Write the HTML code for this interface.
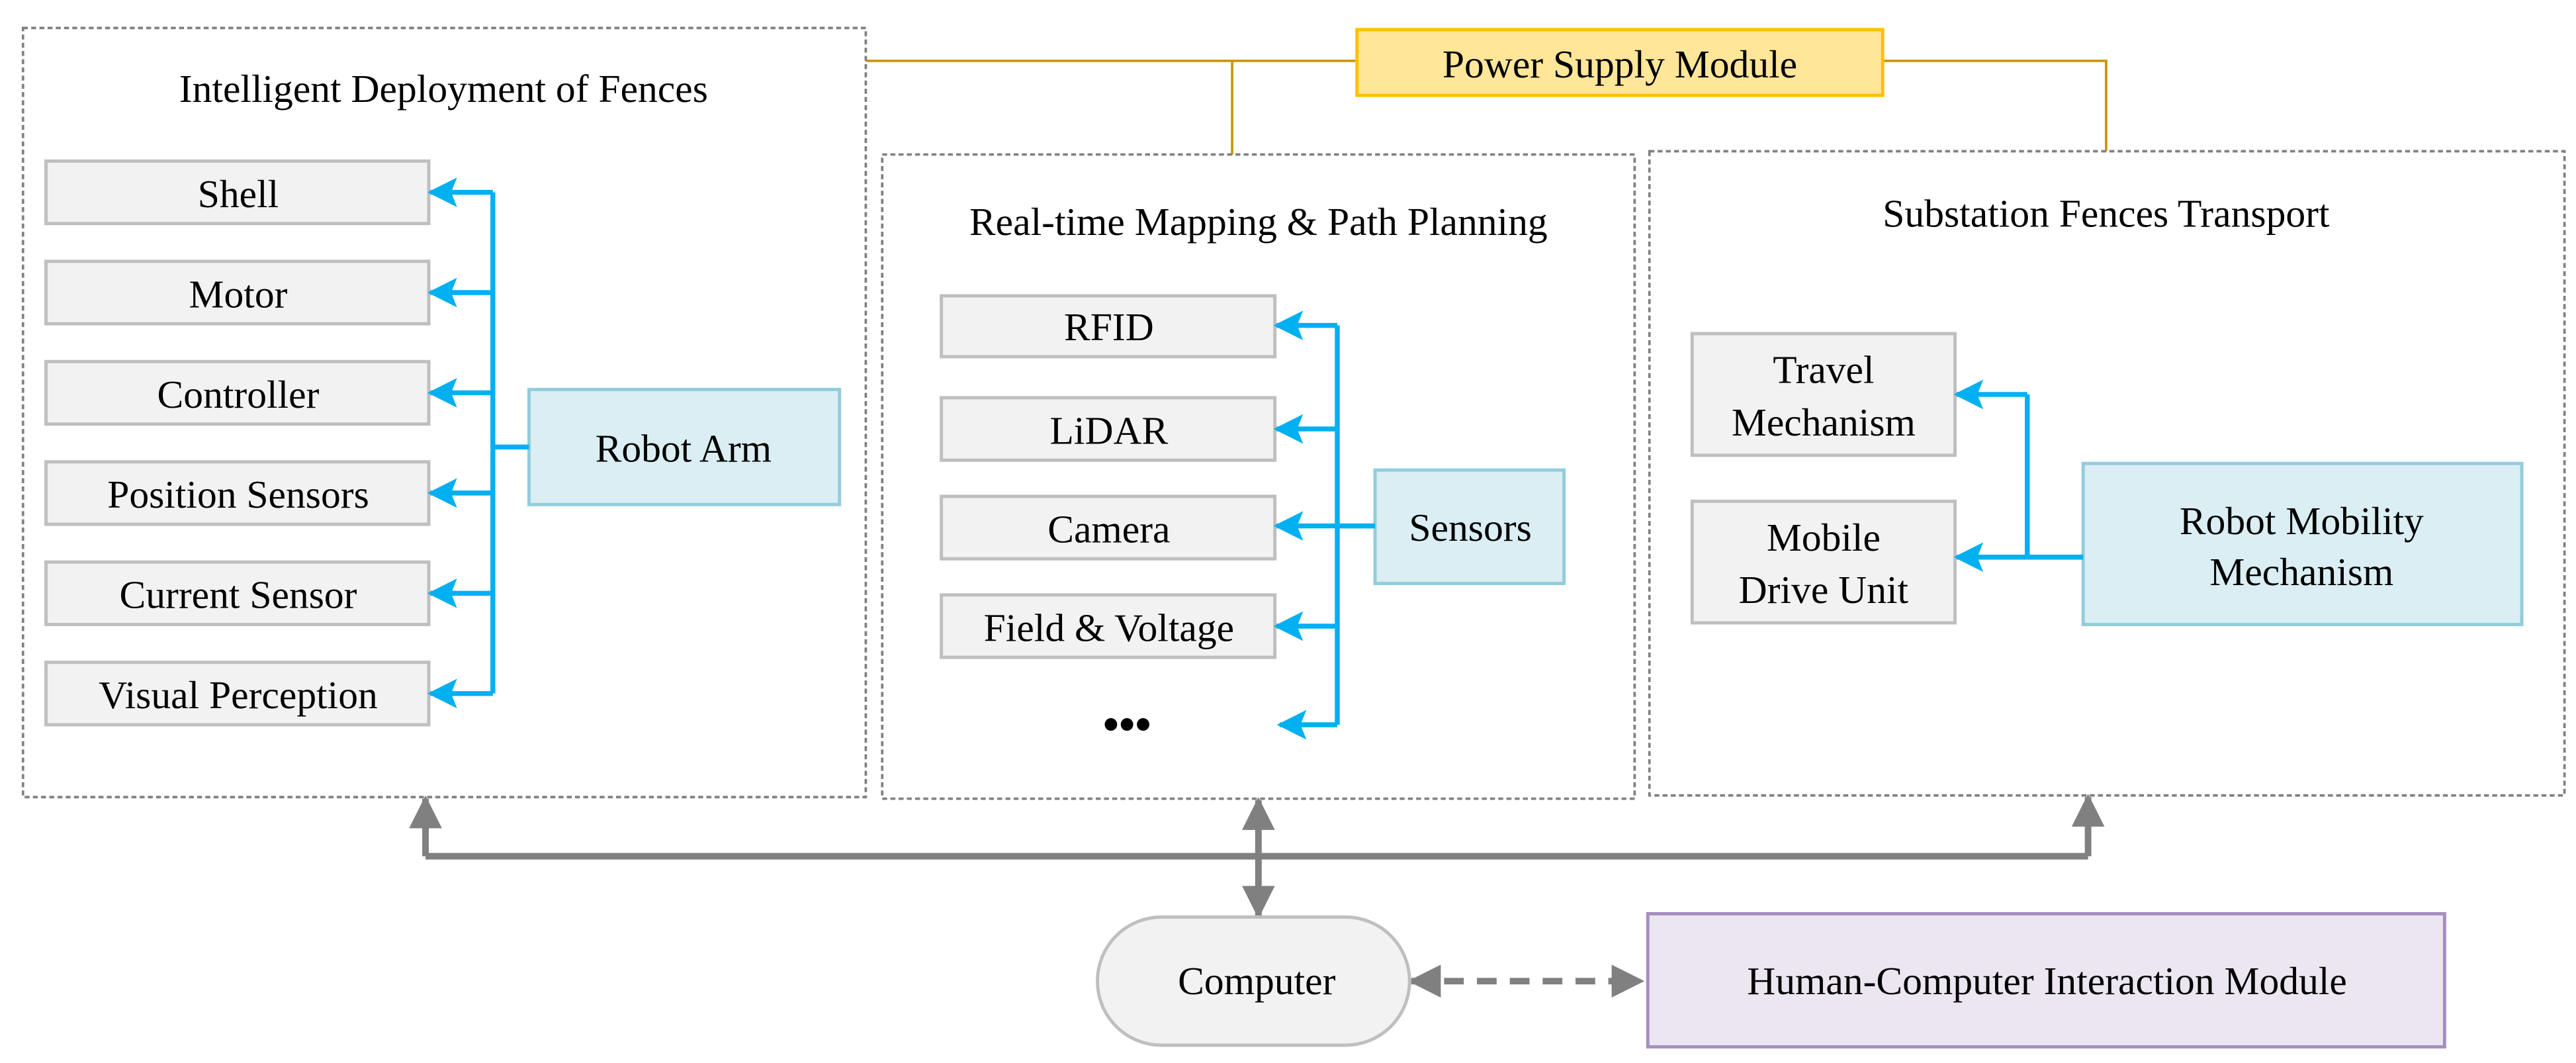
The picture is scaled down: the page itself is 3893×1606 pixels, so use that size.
<!DOCTYPE html>
<html><head><meta charset="utf-8"><style>html,body{margin:0;padding:0;background:#fff}svg{display:block}</style></head>
<body>
<svg xmlns="http://www.w3.org/2000/svg" width="3893" height="1606" viewBox="0 0 1568 646.8" font-family="'Liberation Serif', serif" font-size="24" text-anchor="middle">
<defs>
<marker id="bl" viewBox="0 0 10 10" refX="9" refY="5" markerWidth="20" markerHeight="18" markerUnits="userSpaceOnUse" orient="auto-start-reverse"><path d="M0,0 L10,5 L0,10 L2,5 Z" fill="#00B0F0"/></marker>
<marker id="gr" viewBox="0 0 10 10" refX="9" refY="5" markerWidth="20" markerHeight="20" markerUnits="userSpaceOnUse" orient="auto-start-reverse"><path d="M0,0 L10,5 L0,10 Z" fill="#808080"/></marker>
</defs>
<g stroke="#C89600" stroke-width="1.5" fill="none">
<path d="M527,37 H826"/><path d="M750,37 V94"/><path d="M1146,37 H1282 V92"/>
</g>
<g fill="none" stroke="#808080" stroke-width="1.5" stroke-dasharray="3 2">
<rect x="14" y="17" width="513" height="468"/>
<rect x="537" y="94" width="458" height="392"/>
<rect x="1004" y="92" width="557" height="392"/>
</g>
<rect x="826" y="18" width="320" height="40" fill="#FFE699" stroke="#FFC000" stroke-width="2"/>
<text x="986" y="47">Power Supply Module</text>
<text x="270" y="62">Intelligent Deployment of Fences</text>
<text x="766" y="143">Real-time Mapping &amp; Path Planning</text>
<text x="1282" y="138">Substation Fences Transport</text>
<g fill="#F2F2F2" stroke="#BFBFBF" stroke-width="2">
<rect x="28" y="98" width="233" height="38"/><rect x="28" y="159" width="233" height="38"/>
<rect x="28" y="220" width="233" height="38"/><rect x="28" y="281" width="233" height="38"/>
<rect x="28" y="342" width="233" height="38"/><rect x="28" y="403" width="233" height="38"/>
<rect x="573" y="180" width="203" height="37"/><rect x="573" y="242" width="203" height="38"/>
<rect x="573" y="302" width="203" height="38"/><rect x="573" y="362" width="203" height="38"/>
<rect x="1030" y="203" width="160" height="74"/><rect x="1030" y="305" width="160" height="74"/>
</g>
<g>
<text x="145" y="126">Shell</text><text x="145" y="187">Motor</text>
<text x="145" y="248">Controller</text><text x="145" y="309">Position Sensors</text>
<text x="145" y="370">Current Sensor</text><text x="145" y="431">Visual Perception</text>
<text x="675" y="207">RFID</text><text x="675" y="270">LiDAR</text>
<text x="675" y="330">Camera</text><text x="675" y="390">Field &amp; Voltage</text>
<text x="686" y="450" font-size="28" font-weight="bold">•••</text>
<text x="1110" y="233">Travel</text><text x="1110" y="265">Mechanism</text>
<text x="1110" y="335">Mobile</text><text x="1110" y="367">Drive Unit</text>
</g>
<g fill="#DAEEF3" stroke="#92CDDC" stroke-width="2">
<rect x="322" y="237" width="189" height="70"/>
<rect x="837" y="286" width="115" height="69"/>
<rect x="1268" y="282" width="267" height="98"/>
</g>
<text x="416" y="281">Robot Arm</text>
<text x="895" y="329">Sensors</text>
<text x="1401" y="325">Robot Mobility</text><text x="1401" y="356">Mechanism</text>
<g stroke="#00B0F0" stroke-width="3" fill="none">
<path d="M300,117 V422"/><path d="M300,272 H322"/>
<path d="M300,117 H262" marker-end="url(#bl)"/><path d="M300,178 H262" marker-end="url(#bl)"/>
<path d="M300,239 H262" marker-end="url(#bl)"/><path d="M300,300 H262" marker-end="url(#bl)"/>
<path d="M300,361 H262" marker-end="url(#bl)"/><path d="M300,422 H262" marker-end="url(#bl)"/>
<path d="M814,198 V441"/><path d="M837,320 H814"/>
<path d="M814,198 H777" marker-end="url(#bl)"/><path d="M814,261 H777" marker-end="url(#bl)"/>
<path d="M837,320 H777" marker-end="url(#bl)"/><path d="M814,381 H777" marker-end="url(#bl)"/>
<path d="M814,441 H779" marker-end="url(#bl)"/>
<path d="M1234,240 V339"/><path d="M1268,339 H1234"/>
<path d="M1234,240 H1191" marker-end="url(#bl)"/><path d="M1268,339 H1191" marker-end="url(#bl)"/>
</g>
<g stroke="#808080" stroke-width="4" fill="none">
<path d="M259,521 H1271"/>
<path d="M259,521 V486" marker-end="url(#gr)"/>
<path d="M1271,521 V485" marker-end="url(#gr)"/>
<path d="M766,487 V557" marker-start="url(#gr)" marker-end="url(#gr)"/>
<path d="M859,597 H999" stroke-dasharray="12 8" marker-start="url(#gr)" marker-end="url(#gr)"/>
</g>
<rect x="668" y="558" width="190" height="78" rx="39" fill="#F2F2F2" stroke="#BFBFBF" stroke-width="2"/>
<text x="765" y="605">Computer</text>
<rect x="1003" y="556" width="485" height="81" fill="#EBE6F0" stroke="#A68FC0" stroke-width="2"/>
<text x="1246" y="605">Human-Computer Interaction Module</text>
</svg>
</body></html>
